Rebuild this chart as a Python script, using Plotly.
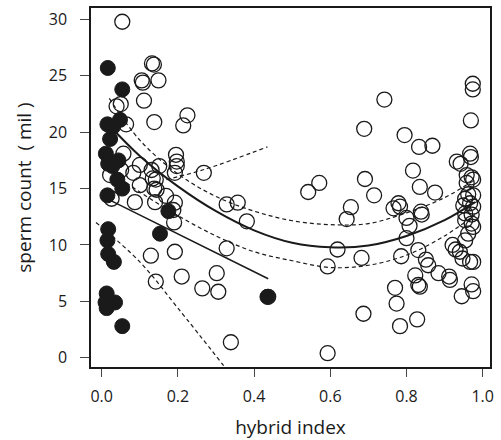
import plotly.graph_objects as go

# ---- data ----
open_x = [0.054, 0.132, 0.137, 0.105, 0.108, 0.149, 0.111, 0.039, 0.050, 0.064,
          0.138, 0.225, 0.214, 0.057, 0.195, 0.197, 0.197, 0.192, 0.268, 0.100,
          0.151, 0.131, 0.022, 0.051, 0.083, 0.100, 0.134, 0.142, 0.138, 0.144,
          0.087, 0.140, 0.026, 0.192, 0.188, 0.169, 0.190, 0.328, 0.357, 0.381,
          0.129, 0.192, 0.328, 0.142, 0.210, 0.302, 0.264, 0.306, 0.339, 0.437,
          0.542, 0.571, 0.654, 0.643, 0.619, 0.593, 0.593, 0.689, 0.691, 0.715,
          0.742, 0.682, 0.687,
          0.974, 0.974, 0.969, 0.795, 0.833, 0.868, 0.967, 0.969, 0.942, 0.932,
          0.817, 0.958, 0.971, 0.975, 0.958, 0.835, 0.875, 0.962, 0.975, 0.954,
          0.967, 0.975, 0.949, 0.954, 0.971, 0.779, 0.783, 0.766, 0.838, 0.800,
          0.808, 0.800, 0.840, 0.954, 0.971, 0.975, 0.962, 0.954, 0.786, 0.831,
          0.851, 0.857, 0.884, 0.912, 0.914, 0.921, 0.929, 0.940, 0.947, 0.967,
          0.975, 0.823, 0.831, 0.835, 0.770, 0.774, 0.783, 0.828, 0.971, 0.975,
          0.945]
open_y = [29.8, 26.1, 26.0, 24.6, 24.4, 24.6, 22.8, 22.3, 22.5, 20.7,
          20.9, 21.5, 20.6, 18.1, 18.0, 17.4, 17.0, 16.4, 16.4, 17.1,
          17.0, 16.65, 16.2, 16.65, 16.4, 15.3, 15.9, 15.8, 15.0, 14.9,
          13.8, 13.8, 14.1, 13.75, 13.1, 14.35, 12.0, 13.6, 13.75, 12.1,
          9.05, 9.4, 9.7, 6.75, 7.2, 7.5, 6.15, 5.85, 1.37, 5.4,
          14.7, 15.5, 13.35, 12.3, 9.6, 8.1, 0.4, 20.3, 15.85, 14.4,
          22.9, 8.85, 3.9,
          24.3, 23.8, 21.05, 19.75, 18.7, 18.8, 18.1, 17.8, 17.2, 17.4,
          16.6, 16.2, 16.0, 15.8, 15.5, 15.15, 14.65, 14.5, 14.4, 14.1,
          13.7, 13.4, 13.5, 12.8, 12.7, 13.7, 13.4, 13.25, 12.95, 12.4,
          11.7, 10.6, 12.7, 12.2, 11.9, 11.6, 11.0, 10.4, 9.0, 9.55,
          8.7, 8.2, 7.5, 7.2, 6.9, 10.0, 9.6, 9.4, 8.8, 8.5,
          8.5, 7.3, 6.45, 6.3, 6.2, 4.8, 2.8, 3.4, 6.5, 5.9,
          5.45]

filled_x = [0.016, 0.054, 0.015, 0.030, 0.048, 0.022, 0.011, 0.017, 0.044, 0.028,
            0.041, 0.054, 0.015, 0.175, 0.017, 0.015, 0.017, 0.032, 0.013, 0.013,
            0.035, 0.010, 0.054, 0.153, 0.435]
filled_y = [25.7, 23.8, 20.7, 20.5, 21.1, 19.4, 18.1, 17.2, 17.5, 17.0,
            15.8, 15.0, 14.4, 13.0, 11.4, 10.4, 9.2, 8.5, 5.7, 4.4,
            4.9, 4.9, 2.8, 11.0, 5.4]

# quadratic fit and its band
quad_x = [0.02, 0.1, 0.2, 0.3, 0.4, 0.5, 0.6, 0.7, 0.8, 0.9, 0.98]
quad_fit = [20.6, 17.9, 15.2, 13.0, 11.3, 10.2, 9.8, 9.95, 10.8, 12.2, 13.8]
quad_upper = [23.0, 19.3, 16.3, 14.3, 13.0, 12.15, 11.8, 11.9, 12.85, 14.2, 15.8]
quad_lower = [16.6, 14.7, 12.6, 10.8, 9.4, 8.6, 8.0, 8.2, 9.1, 10.8, 12.7]

# linear fit for the left group and its dashed bounds
lin_x = [0.02, 0.437]
lin_y = [14.0, 7.0]
lin_up_x = [0.17, 0.27, 0.435]
lin_up_y = [15.8, 16.7, 18.7]
lin_lo_x = [-0.015, 0.1, 0.2, 0.32]
lin_lo_y = [12.0, 8.5, 4.4, -0.7]

x_ticks = [0.0, 0.2, 0.4, 0.6, 0.8, 1.0]
y_ticks = [0, 5, 10, 15, 20, 25, 30]

INK = "#1a1a1a"
DASH = "4px,3px"

fig = go.Figure()

def add_line(x, y, width, dash=None, shape="spline"):
    fig.add_trace(go.Scatter(x=x, y=y, mode="lines", hoverinfo="skip",
                             line=dict(color=INK, width=width, dash=dash, shape=shape),
                             showlegend=False))

add_line(quad_x, quad_fit, 2.0)
add_line(quad_x, quad_upper, 1.2, DASH)
add_line(quad_x, quad_lower, 1.2, DASH)
add_line(lin_x, lin_y, 1.5, shape="linear")
add_line(lin_up_x, lin_up_y, 1.2, DASH)
add_line(lin_lo_x, lin_lo_y, 1.2, DASH)

fig.add_trace(go.Scatter(x=open_x, y=open_y, mode="markers", showlegend=False,
                         marker=dict(symbol="circle-open", size=15, color=INK,
                                     line=dict(width=1.3, color=INK))))
fig.add_trace(go.Scatter(x=filled_x, y=filled_y, mode="markers", showlegend=False,
                         marker=dict(symbol="circle", size=15, color=INK,
                                     line=dict(width=1, color=INK))))

font = dict(family="Open Sans, sans-serif", size=16, color=INK)

fig.update_layout(
    width=501, height=440,
    margin=dict(l=91, r=11, t=8, b=73),
    paper_bgcolor="white", plot_bgcolor="white",
    font=font,
    xaxis=dict(range=[-0.0281, 1.0192], tickvals=x_ticks,
               ticktext=[f"{v:.1f}" for v in x_ticks],
               showgrid=False, zeroline=False, automargin=False,
               showline=True, mirror=True, linecolor=INK, linewidth=1.5,
               ticks="outside", ticklen=8, tickwidth=1.3, tickcolor="#444",
               ticklabelstandoff=6,
               title=dict(text="hybrid index", standoff=18)),
    yaxis=dict(range=[-0.825, 31.02], tickvals=y_ticks,
               showgrid=False, zeroline=False, automargin=False,
               showline=True, mirror=True, linecolor=INK, linewidth=1.5,
               ticks="outside", ticklen=9, tickwidth=1.3, tickcolor="#444",
               ticklabelstandoff=10,
               title=dict(text="sperm count  ( mil )", standoff=12)),
)

fig.write_html("out.html")
